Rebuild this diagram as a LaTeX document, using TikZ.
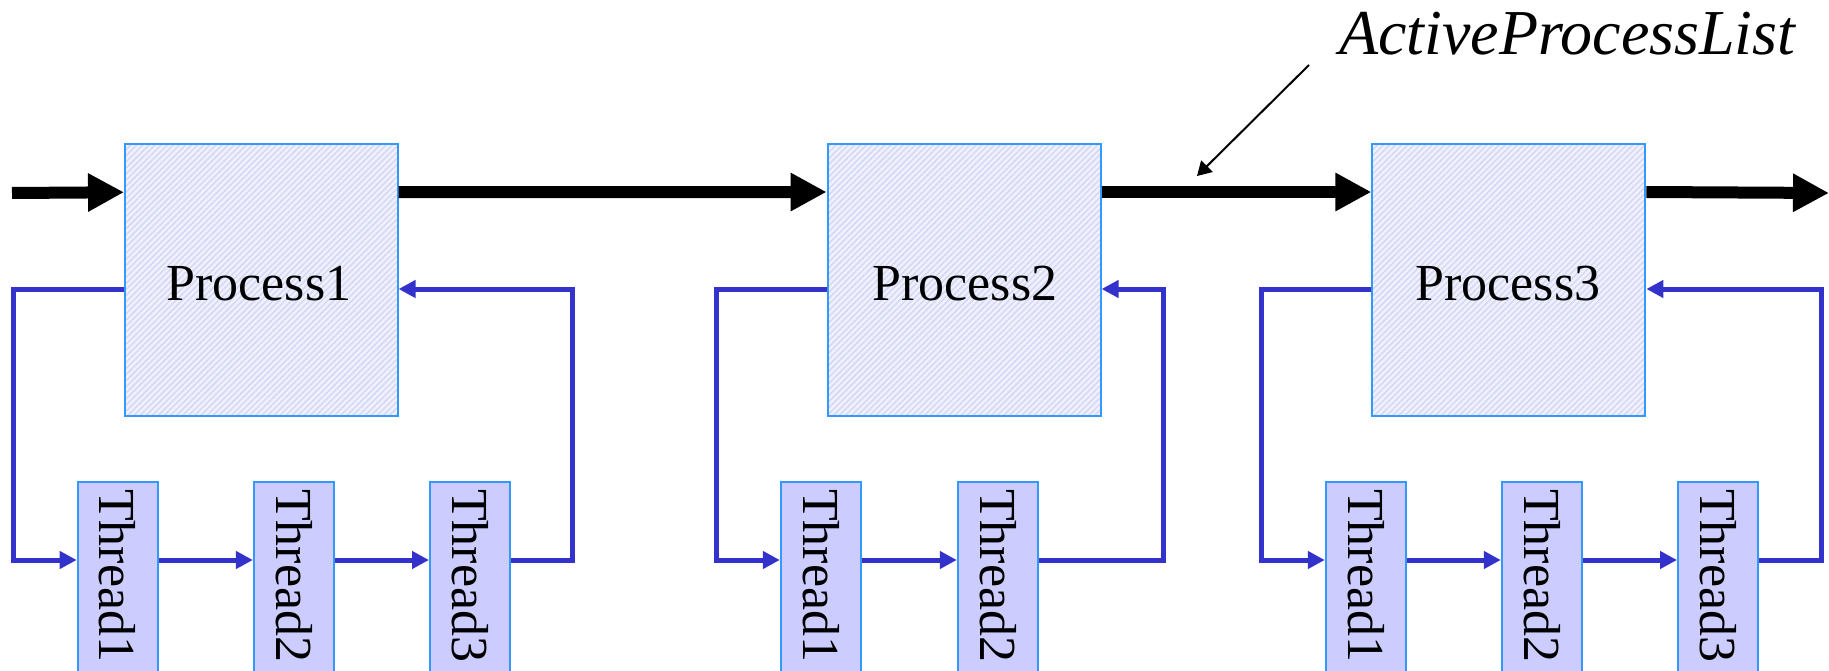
\documentclass[tikz,border=0pt]{standalone}
\usepackage{fontspec}
\setmainfont{Liberation Serif}
\usetikzlibrary{arrows.meta,patterns.meta}
\definecolor{linkblue}{HTML}{3333CC}
\definecolor{edgeblue}{HTML}{3399FF}
\definecolor{procbg}{HTML}{F0F1FD}
\definecolor{procstripe}{HTML}{D4D8F6}
\definecolor{threadbg}{HTML}{CCCCFF}
\tikzset{
  proc/.style={draw=edgeblue, line width=2pt, preaction={fill=procbg},
    pattern={Lines[angle=45,distance=4.3pt,line width=1.5pt]}, pattern color=procstripe,
    minimum width=273pt, minimum height=271pt, inner sep=0pt},
  proclabel/.style={anchor=base, inner sep=0pt, font=\fontsize{52pt}{60pt}\selectfont},
  threadbox/.style={draw=edgeblue, line width=2pt, fill=threadbg,
    minimum width=80pt, minimum height=240pt, inner sep=0pt, anchor=north west},
  threadtext/.style={rotate=-90, anchor=west, inner sep=0pt,
    font=\fontsize{52pt}{60pt}\selectfont},
  listarrow/.style={line width=12pt, -{Triangle[length=36pt,width=36pt]}},
  link/.style={draw=linkblue, line width=5pt},
  linkarrow/.style={link, -{Triangle[length=17pt,width=17pt]}},
  pointer/.style={line width=2pt, -{Triangle[length=14pt,width=16pt]}},
}
\begin{document}
\begin{tikzpicture}[x=1pt,y=-1pt]
\useasboundingbox (0,0) rectangle (1829,671);
\clip (0,0) rectangle (1829,671);

% processes
\node[proc] (p1) at (261.3,280) {};
\node[proc] (p2) at (964.1,280) {};
\node[proc] (p3) at (1508.9,280) {};
\node[proclabel] (p1l) at (259,300) {Process1};
\node[proclabel] (p2l) at (965,300) {Process2};
\node[proclabel] (p3l) at (1508,300) {Process3};

% threads of process 1
\node[threadbox] (t11) at (76.7,481) {};
\node[threadbox] (t12) at (252.9,481) {};
\node[threadbox] (t13) at (429,481) {};
% threads of process 2
\node[threadbox] (t21) at (779.8,481) {};
\node[threadbox] (t22) at (956.8,481) {};
% threads of process 3
\node[threadbox] (t31) at (1324.8,481) {};
\node[threadbox] (t32) at (1500.8,481) {};
\node[threadbox] (t33) at (1677,481) {};

\foreach \t/\s in {t11/Thread1,t12/Thread2,t13/Thread3,t21/Thread1,t22/Thread2,t31/Thread1,t32/Thread2,t33/Thread3}
  \node[threadtext] (\t l) at ([yshift=-8pt]\t.north) {\s};

% the active process list
\coordinate (head) at (12,193);
\coordinate (tail) at (1829,193);
\draw[listarrow] (head) -- ([yshift=-48.5pt]p1.north west);
\draw[listarrow] ([yshift=-48.5pt]p1.north east) -- ([yshift=-48.5pt]p2.north west);
\draw[listarrow] ([yshift=-48.5pt]p2.north east) -- ([yshift=-48.5pt]p3.north west);
\draw[listarrow] ([yshift=-48.5pt]p3.north east) -- (tail);

% turning points of the thread lists
\coordinate (l1) at (13.3,560);  \coordinate (r1) at (572.3,289);
\coordinate (l2) at (716.5,560); \coordinate (r2) at (1163,289);
\coordinate (l3) at (1261,560);  \coordinate (r3) at (1821,289);

% thread list of process 1
\draw[linkarrow] ([yshift=-9pt]p1.west) -| (l1) -- ([yshift=-79pt]t11.north west);
\draw[linkarrow] ([yshift=-79pt]t11.north east) -- ([yshift=-79pt]t12.north west);
\draw[linkarrow] ([yshift=-79pt]t12.north east) -- ([yshift=-79pt]t13.north west);
\draw[linkarrow] ([yshift=-79pt]t13.north east) -| (r1) -- ([yshift=-9pt]p1.east);

% thread list of process 2
\draw[linkarrow] ([yshift=-9pt]p2.west) -| (l2) -- ([yshift=-79pt]t21.north west);
\draw[linkarrow] ([yshift=-79pt]t21.north east) -- ([yshift=-79pt]t22.north west);
\draw[linkarrow] ([yshift=-79pt]t22.north east) -| (r2) -- ([yshift=-9pt]p2.east);

% thread list of process 3
\draw[linkarrow] ([yshift=-9pt]p3.west) -| (l3) -- ([yshift=-79pt]t31.north west);
\draw[linkarrow] ([yshift=-79pt]t31.north east) -- ([yshift=-79pt]t32.north west);
\draw[linkarrow] ([yshift=-79pt]t32.north east) -- ([yshift=-79pt]t33.north west);
\draw[linkarrow] ([yshift=-79pt]t33.north east) -| (r3) -- ([yshift=-9pt]p3.east);

% caption and its pointer
\node[anchor=base west, inner sep=0pt, font=\fontsize{64pt}{72pt}\selectfont\itshape]
  (cap) at (1339,55) {ActiveProcessList};
\coordinate (ptip) at (1197,176);
\draw[pointer] ([xshift=-30pt,yshift=-10pt]cap.base west) -- (ptip);
\end{tikzpicture}
\end{document}
